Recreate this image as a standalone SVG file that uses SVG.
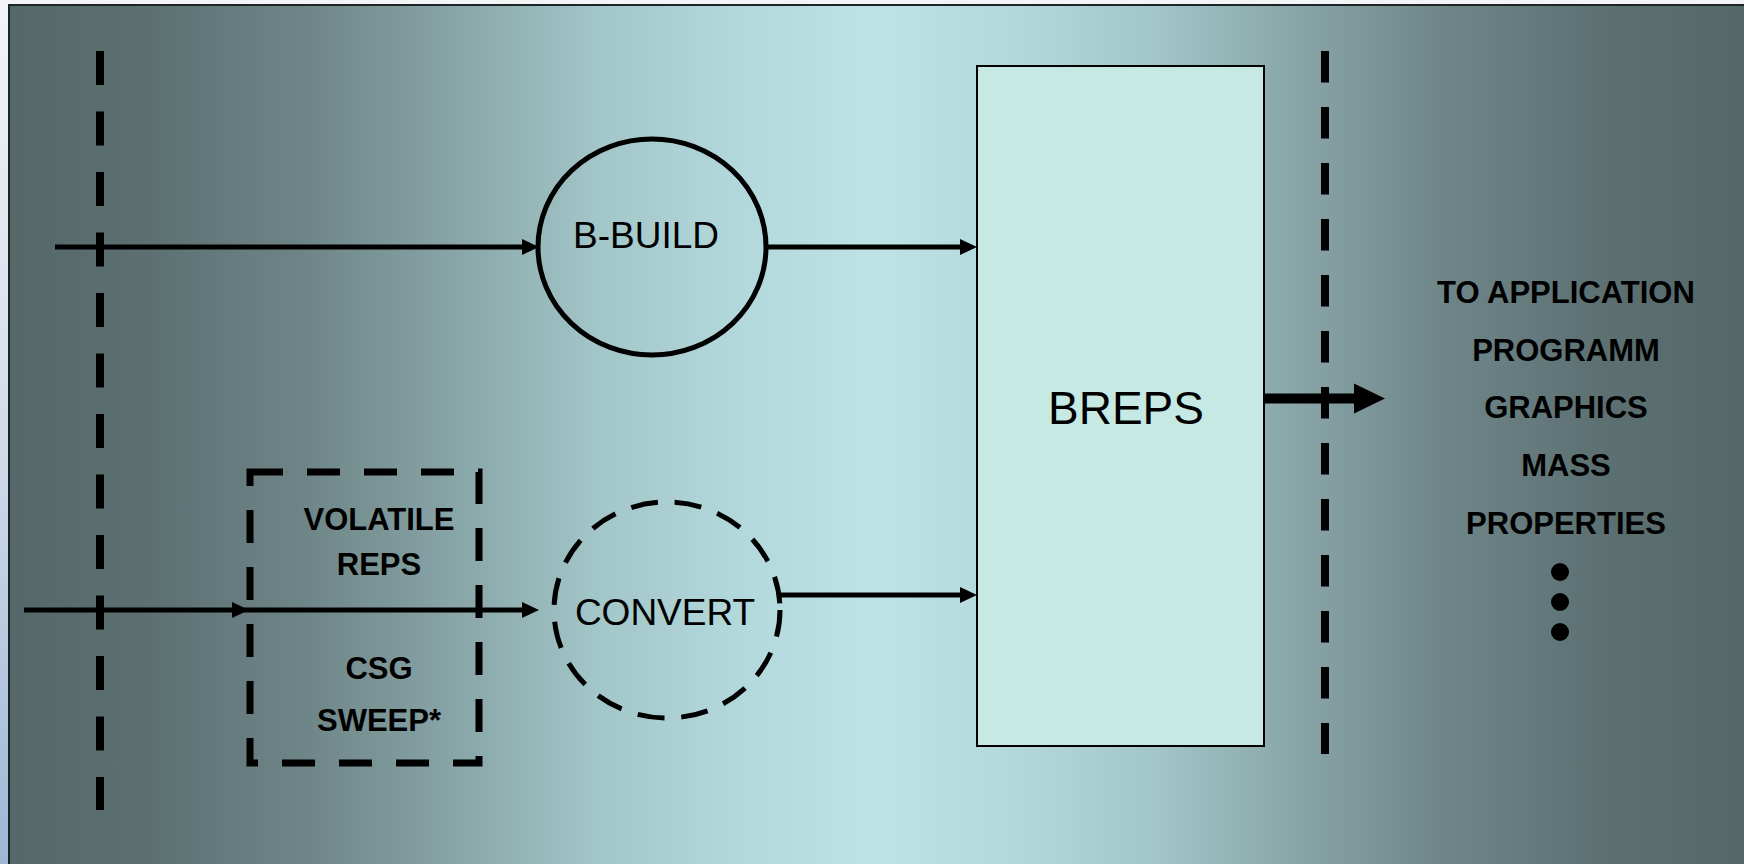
<svg xmlns="http://www.w3.org/2000/svg" width="1744" height="864" viewBox="0 0 1744 864">
  <defs>
    <linearGradient id="bg" gradientUnits="userSpaceOnUse" x1="9" y1="0" x2="1744" y2="0">
      <stop offset="0" stop-color="#556869"/>
      <stop offset="0.08" stop-color="#5c7072"/>
      <stop offset="0.17" stop-color="#6e8587"/>
      <stop offset="0.26" stop-color="#89a6a8"/>
      <stop offset="0.34" stop-color="#a3c6c8"/>
      <stop offset="0.42" stop-color="#b3d8db"/>
      <stop offset="0.5" stop-color="#bde3e6"/>
      <stop offset="0.58" stop-color="#b3d8db"/>
      <stop offset="0.66" stop-color="#a3c6c8"/>
      <stop offset="0.74" stop-color="#89a6a8"/>
      <stop offset="0.83" stop-color="#6e8587"/>
      <stop offset="0.92" stop-color="#5c7072"/>
      <stop offset="1" stop-color="#556869"/>
    </linearGradient>
    <linearGradient id="strip" x1="0" y1="0" x2="0" y2="1">
      <stop offset="0" stop-color="#f2f4f8"/>
      <stop offset="0.5" stop-color="#d2dcea"/>
      <stop offset="1" stop-color="#9db7d5"/>
    </linearGradient>
    <marker id="ah" markerUnits="userSpaceOnUse" markerWidth="17" markerHeight="18" refX="0" refY="9" orient="auto">
      <path d="M0,1 L17,9 L0,17 Z" fill="#000"/>
    </marker>
    <style>
      .lbl { font-family: "Liberation Sans", Arial, sans-serif; fill: #000; text-anchor: middle; }
      .big { font-size: 37px; }
      .bold { font-size: 31px; font-weight: bold; }
      .conn { stroke: #000; stroke-width: 5; fill: none; }
      .bar { stroke: #000; stroke-width: 8; fill: none; }
    </style>
  </defs>

  <rect x="0" y="0" width="1744" height="864" fill="url(#strip)"/>
  <rect x="9" y="5" width="1800" height="900" fill="url(#bg)" stroke="#1e2424" stroke-width="2"/>

  <g id="boundaries">
    <line class="bar" x1="100" y1="51" x2="100" y2="810" stroke-dasharray="34 26.5"/>
    <line class="bar" x1="1325" y1="51" x2="1325" y2="754" stroke-dasharray="31.5 24.5"/>
  </g>

  <g id="breps">
    <rect x="977" y="66" width="287" height="680" fill="#c6eae3" stroke="#000" stroke-width="2"/>
    <text class="lbl" x="1126" y="424" font-size="46">BREPS</text>
  </g>

  <g id="bbuild">
    <ellipse cx="652" cy="247" rx="114" ry="108" fill="none" stroke="#000" stroke-width="5"/>
    <text class="lbl big" x="646" y="248">B-BUILD</text>
  </g>

  <g id="convert">
    <ellipse cx="667" cy="610" rx="113" ry="108" fill="none" stroke="#000" stroke-width="5" stroke-dasharray="27 17"/>
    <text class="lbl big" x="665" y="625">CONVERT</text>
  </g>

  <g id="volatile-reps">
    <rect x="250" y="472" width="229" height="291" fill="none" stroke="#000" stroke-width="7" stroke-dasharray="33 24"/>
    <text class="lbl bold" x="379" y="530">VOLATILE</text>
    <text class="lbl bold" x="379" y="575">REPS</text>
    <text class="lbl bold" x="379" y="679">CSG</text>
    <text class="lbl bold" x="379" y="731">SWEEP*</text>
  </g>

  <g id="applications">
    <text class="lbl bold" x="1566" y="303">TO APPLICATION</text>
    <text class="lbl bold" x="1566" y="361">PROGRAMM</text>
    <text class="lbl bold" x="1566" y="418">GRAPHICS</text>
    <text class="lbl bold" x="1566" y="476">MASS</text>
    <text class="lbl bold" x="1566" y="534">PROPERTIES</text>
    <circle cx="1560" cy="572" r="9" fill="#000"/>
    <circle cx="1560" cy="602" r="9" fill="#000"/>
    <circle cx="1560" cy="632" r="9" fill="#000"/>
  </g>

  <g id="connectors">
    <line class="conn" x1="55" y1="247" x2="522" y2="247" marker-end="url(#ah)"/>
    <line class="conn" x1="766" y1="247" x2="960" y2="247" marker-end="url(#ah)"/>
    <line class="conn" x1="24" y1="610" x2="232" y2="610" marker-end="url(#ah)"/>
    <line class="conn" x1="232" y1="610" x2="522" y2="610" marker-end="url(#ah)"/>
    <line class="conn" x1="780" y1="595" x2="960" y2="595" marker-end="url(#ah)"/>
    <line stroke="#000" stroke-width="10" x1="1264" y1="398.5" x2="1356" y2="398.5"/>
    <polygon points="1354,383.5 1385,398.5 1354,413.5" fill="#000"/>
  </g>
</svg>
